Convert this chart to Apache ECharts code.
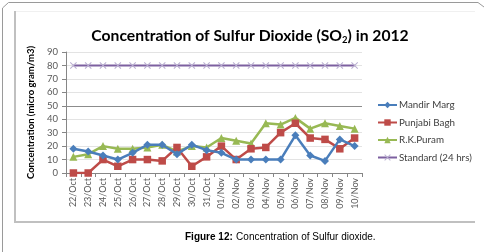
<!DOCTYPE html>
<html>
<head>
<meta charset="utf-8">
<script src="https://cdn.jsdelivr.net/npm/echarts@6/dist/echarts.min.js"></script>
<style>
  html, body { margin: 0; padding: 0; background: #fff; }
  #chart { width: 486px; height: 252px; }
</style>
</head>
<body>
<div id="chart"></div>
<script>
const dates = ['22/Oct', '23/Oct', '24/Oct', '25/Oct', '26/Oct', '27/Oct', '28/Oct', '29/Oct', '30/Oct', '31/Oct',
  '01/Nov', '02/Nov', '03/Nov', '04/Nov', '05/Nov', '06/Nov', '07/Nov', '08/Nov', '09/Nov', '10/Nov'];
const mandirMarg = [18, 16, 13, 10, 15, 21, 21, 14, 21, 17, 15, 10, 10, 10, 10, 28, 13, 9, 25, 20];
const punjabiBagh = [0, 0, 10, 5, 10, 10, 9, 19, 5, 12, 20, 10, 18, 19, 30, 37, 26, 25, 18, 26];
const rkPuram = [12, 14, 20, 18, 18, 19, 21, 16, 20, 19, 26, 24, 22, 37, 36, 41, 33, 37, 35, 33];
const standard = [80, 80, 80, 80, 80, 80, 80, 80, 80, 80, 80, 80, 80, 80, 80, 80, 80, 80, 80, 80];
const darkGridValue = 50;

const chart = echarts.init(document.getElementById('chart'));
const font = 'Lato, "DejaVu Sans", sans-serif';
const xMark = 'path://M0,1 L1,0 L5,4 L9,0 L10,1 L6,5 L10,9 L9,10 L5,6 L1,10 L0,9 L4,5 Z';

const option = {
  animation: false,
  textStyle: { fontFamily: font },
  title: {
    text: '{a|Concentration of Sulfur Dioxide (SO}{s|2}{a|) in 2012}',
    left: 245,
    textAlign: 'center',
    top: 22,
    textStyle: {
      rich: {
        a: { fontFamily: font, fontWeight: 'bold', fontSize: 15.7, color: '#000' },
        s: { fontFamily: font, fontWeight: 'bold', fontSize: 9.5, color: '#000', padding: [8, 0, 0, 0] }
      }
    }
  },
  legend: {
    orient: 'vertical',
    left: 377,
    top: 99,
    padding: 0,
    itemWidth: 19,
    itemHeight: 8,
    itemGap: 5.5,
    textStyle: { fontFamily: font, fontSize: 9.8, lineHeight: 12, color: '#404040', padding: [0, 0, 0, -3] },
    data: ['Mandir Marg', 'Punjabi Bagh', 'R.K.Puram', 'Standard (24 hrs)']
  },
  grid: { left: 66, top: 52, width: 296, height: 121, containLabel: false },
  xAxis: {
    type: 'category',
    data: dates,
    boundaryGap: true,
    axisLine: { lineStyle: { color: '#868686', width: 1 } },
    axisTick: { show: true, interval: 0, length: 4, lineStyle: { color: '#868686' } },
    axisLabel: { rotate: 90, interval: 0, fontSize: 9, color: '#595959', margin: 5, fontFamily: font }
  },
  yAxis: {
    type: 'value',
    min: 0,
    max: 90,
    interval: 10,
    name: 'Concentration (micro gram/m3)',
    nameLocation: 'middle',
    nameRotate: 90,
    nameGap: 30,
    nameTextStyle: { fontFamily: font, fontWeight: 'bold', fontSize: 9.5, color: '#000' },
    axisLine: { show: true, lineStyle: { color: '#868686' } },
    axisTick: { show: true, length: 4, lineStyle: { color: '#868686' } },
    axisLabel: { fontSize: 9.5, color: '#595959', margin: 8, fontFamily: font },
    splitLine: { show: true, lineStyle: { color: '#e3e3e3', width: 1 } }
  },
  series: [
    {
      name: 'Mandir Marg', type: 'line', data: mandirMarg, z: 4,
      symbol: 'diamond', symbolSize: 8,
      lineStyle: { color: '#4A7EBB', width: 2.5 },
      itemStyle: { color: '#4A7EBB' },
      markLine: {
        silent: true, symbol: 'none', label: { show: false }, z: 1,
        lineStyle: { color: '#8c8c8c', width: 1, type: 'solid' },
        data: [{ yAxis: darkGridValue }]
      }
    },
    {
      name: 'Punjabi Bagh', type: 'line', data: punjabiBagh, z: 3,
      symbol: 'rect', symbolSize: 7.5,
      lineStyle: { color: '#BE4B48', width: 2.5 },
      itemStyle: { color: '#BE4B48' }
    },
    {
      name: 'R.K.Puram', type: 'line', data: rkPuram, z: 2,
      symbol: 'triangle', symbolSize: 8,
      lineStyle: { color: '#98B954', width: 2.5 },
      itemStyle: { color: '#98B954' }
    },
    {
      name: 'Standard (24 hrs)', type: 'line', data: standard,
      symbol: xMark, symbolSize: 7,
      lineStyle: { color: '#7D60A0', width: 2 },
      itemStyle: { color: '#B9AED0' }
    }
  ],
  graphic: [
    // outer page border (open at bottom)
    {
      type: 'polyline', silent: true,
      shape: { points: [[2.5, 252], [2.5, 8], [8.5, 2.5], [478, 2.5], [484, 7]] },
      style: { stroke: '#9a9a9a', lineWidth: 1, fill: null }
    },
    // chart frame
    { type: 'line', silent: true, shape: { x1: 16, y1: 11.5, x2: 475, y2: 11.5 }, style: { stroke: '#f0f0f0', lineWidth: 1 } },
    { type: 'line', silent: true, shape: { x1: 15, y1: 11, x2: 15, y2: 223 }, style: { stroke: '#c0c0c0', lineWidth: 2 } },
    { type: 'line', silent: true, shape: { x1: 14, y1: 222, x2: 475, y2: 222 }, style: { stroke: '#c0c0c0', lineWidth: 2 } },
    {
      type: 'text', silent: true, left: 185, top: 231,
      style: {
        text: '{b|Figure 12:} {n|Concentration of Sulfur dioxide.}',
        rich: {
          b: { fontFamily: 'Liberation Sans, Arial, sans-serif', fontWeight: 'bold', fontSize: 10, fill: '#000' },
          n: { fontFamily: 'Liberation Sans, Arial, sans-serif', fontSize: 10, fill: '#000' }
        }
      }
    }
  ]
};

chart.setOption(option);
</script>
</body>
</html>
